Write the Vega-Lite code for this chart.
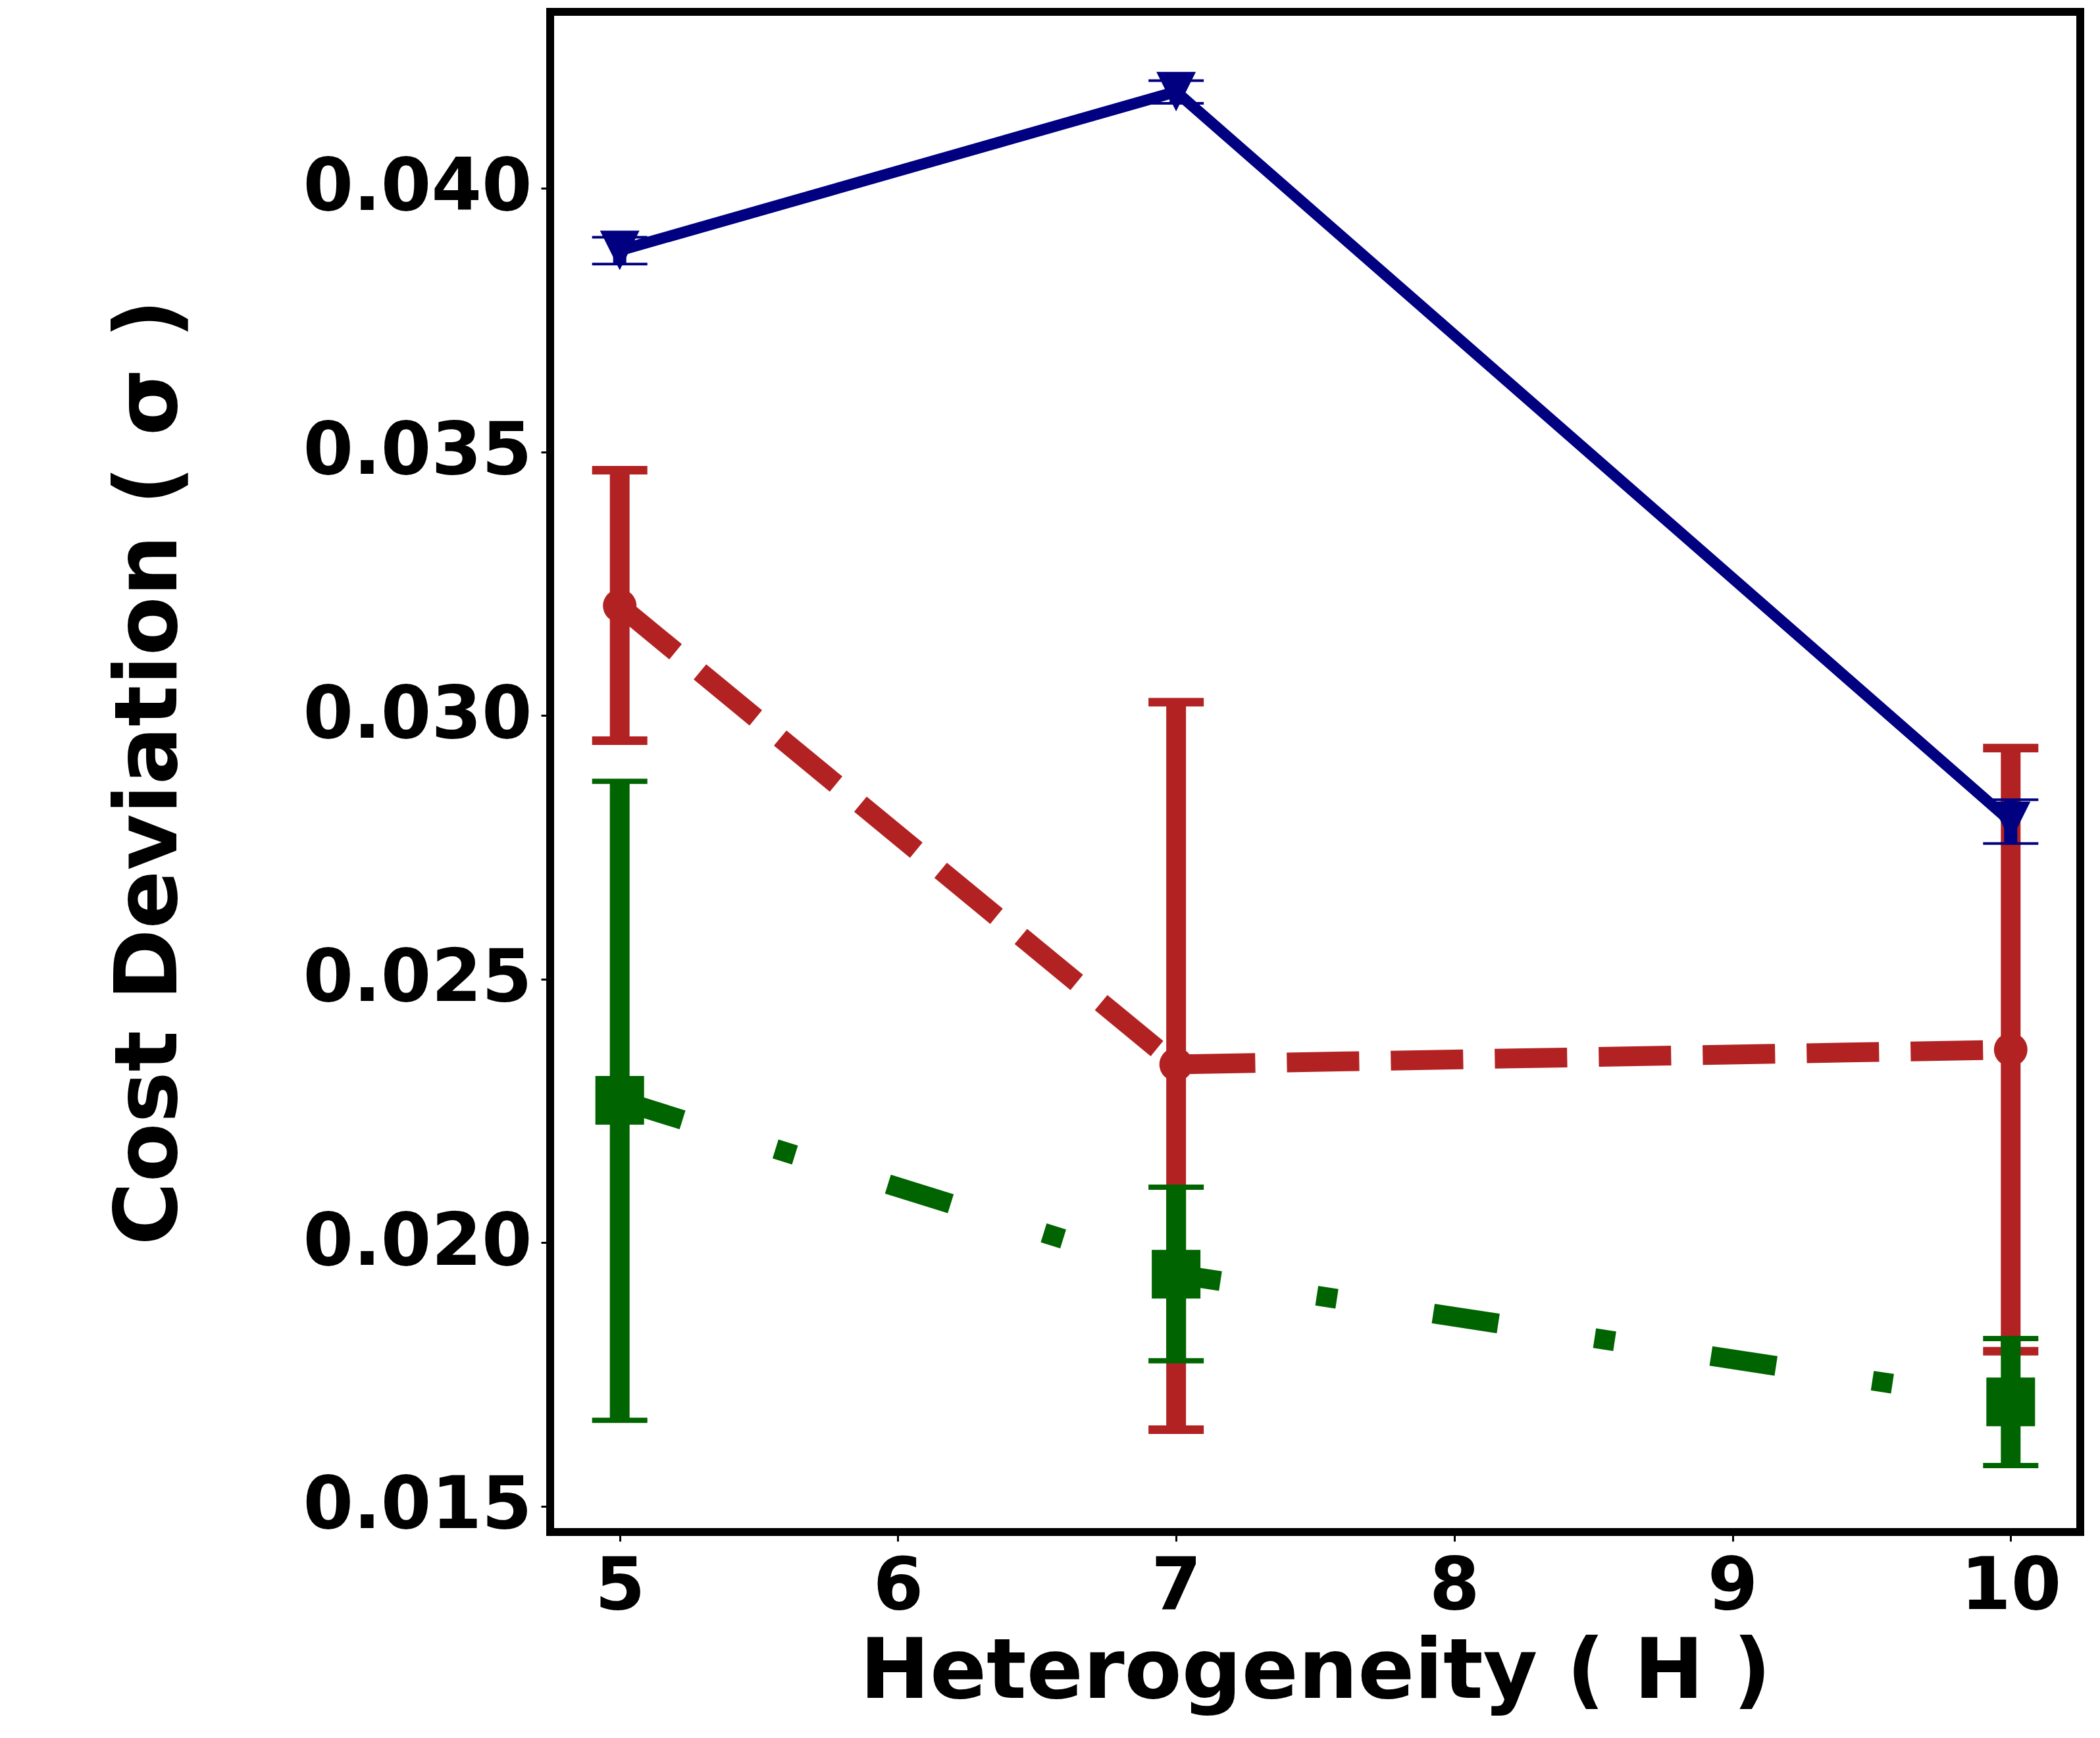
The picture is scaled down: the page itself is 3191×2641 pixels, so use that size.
{
  "$schema": "https://vega.github.io/schema/vega-lite/v6.json",
  "width": 2325,
  "height": 2310,
  "autosize": "none",
  "padding": {"left": 836, "top": 18, "right": 30, "bottom": 313},
  "background": "white",
  "data": {
    "values": [
      {"series": "B", "H": 5, "mean": 0.03208, "lo": 0.02952, "hi": 0.03465},
      {"series": "B", "H": 7, "mean": 0.02338, "lo": 0.01645, "hi": 0.03025},
      {"series": "B", "H": 10, "mean": 0.02366, "lo": 0.01794, "hi": 0.02938},
      {"series": "C", "H": 5, "mean": 0.02270, "lo": 0.01663, "hi": 0.02875},
      {"series": "C", "H": 7, "mean": 0.01940, "lo": 0.01776, "hi": 0.02105},
      {"series": "C", "H": 10, "mean": 0.01698, "lo": 0.01577, "hi": 0.01818},
      {"series": "A", "H": 5, "mean": 0.03882, "lo": 0.03856, "hi": 0.03907},
      {"series": "A", "H": 7, "mean": 0.04183, "lo": 0.04161, "hi": 0.04204},
      {"series": "A", "H": 10, "mean": 0.02799, "lo": 0.02757, "hi": 0.02840}
    ]
  },
  "encoding": {
    "x": {
      "field": "H",
      "type": "quantitative",
      "title": "Heterogeneity ( H )",
      "scale": {"domain": [4.75, 10.25], "nice": false},
      "axis": {
        "values": [5, 6, 7, 8, 9, 10],
        "format": "d",
        "labelPadding": 15,
        "titlePadding": 13,
        "titleFontSize": 127,
        "labelFlush": false
      }
    },
    "y": {
      "field": "mean",
      "type": "quantitative",
      "title": "Cost Deviation ( σ )",
      "scale": {"domain": [0.01451, 0.043345], "nice": false, "zero": false},
      "axis": {
        "values": [0.015, 0.02, 0.025, 0.03, 0.035, 0.04],
        "format": ".3f",
        "labelPadding": 14,
        "titlePadding": 341
      }
    }
  },
  "layer": [
    {
      "transform": [{"filter": "datum.series == 'B'"}],
      "mark": {"type": "rule", "color": "#b22222", "strokeWidth": 30},
      "encoding": {"y": {"field": "lo", "type": "quantitative"}, "y2": {"field": "hi"}}
    },
    {
      "transform": [{"filter": "datum.series == 'B'"}, {"fold": ["lo", "hi"], "as": ["end", "cap"]}],
      "mark": {"type": "point", "shape": "M-1,0L1,0", "size": 7056, "filled": false, "stroke": "#b22222", "strokeWidth": 13, "opacity": 1},
      "encoding": {"y": {"field": "cap", "type": "quantitative"}}
    },
    {
      "transform": [{"filter": "datum.series == 'C'"}],
      "mark": {"type": "rule", "color": "#006400", "strokeWidth": 30},
      "encoding": {"y": {"field": "lo", "type": "quantitative"}, "y2": {"field": "hi"}}
    },
    {
      "transform": [{"filter": "datum.series == 'C'"}, {"fold": ["lo", "hi"], "as": ["end", "cap"]}],
      "mark": {"type": "point", "shape": "M-1,0L1,0", "size": 7056, "filled": false, "stroke": "#006400", "strokeWidth": 8, "opacity": 1},
      "encoding": {"y": {"field": "cap", "type": "quantitative"}}
    },
    {
      "transform": [{"filter": "datum.series == 'A'"}],
      "mark": {"type": "rule", "color": "#000080", "strokeWidth": 20},
      "encoding": {"y": {"field": "lo", "type": "quantitative"}, "y2": {"field": "hi"}}
    },
    {
      "transform": [{"filter": "datum.series == 'A'"}, {"fold": ["lo", "hi"], "as": ["end", "cap"]}],
      "mark": {"type": "point", "shape": "M-1,0L1,0", "size": 7056, "filled": false, "stroke": "#000080", "strokeWidth": 4, "opacity": 1},
      "encoding": {"y": {"field": "cap", "type": "quantitative"}}
    },
    {
      "transform": [{"filter": "datum.series == 'B'"}],
      "mark": {"type": "line", "color": "#b22222", "strokeWidth": 30, "strokeDash": [110, 48]},
      "encoding": {}
    },
    {
      "transform": [{"filter": "datum.series == 'B'"}],
      "mark": {"type": "point", "shape": "circle", "size": 2600, "filled": true, "color": "#b22222", "opacity": 1},
      "encoding": {}
    },
    {
      "transform": [{"filter": "datum.series == 'C'"}],
      "mark": {"type": "line", "color": "#006400", "strokeWidth": 30, "strokeDash": [100, 148, 31, 148]},
      "encoding": {}
    },
    {
      "transform": [{"filter": "datum.series == 'C'"}],
      "mark": {"type": "point", "shape": "square", "size": 5476, "filled": true, "color": "#006400", "opacity": 1},
      "encoding": {}
    },
    {
      "transform": [{"filter": "datum.series == 'A'"}],
      "mark": {"type": "line", "color": "#000080", "strokeWidth": 17, "strokeJoin": "round"},
      "encoding": {}
    },
    {
      "transform": [{"filter": "datum.series == 'A'"}],
      "mark": {"type": "point", "shape": "M-1,-1L1,-1L0,1Z", "size": 3600, "filled": true, "color": "#000080", "opacity": 1},
      "encoding": {}
    }
  ],
  "config": {
    "view": {"stroke": "black", "strokeWidth": 12},
    "axis": {
      "domain": false,
      "grid": false,
      "ticks": true,
      "tickColor": "black",
      "tickSize": 14,
      "tickWidth": 3,
      "labelFont": "DejaVu Sans",
      "labelFontWeight": "bold",
      "labelFontSize": 110,
      "labelColor": "black",
      "labelLimit": 0,
      "titleFont": "DejaVu Sans",
      "titleFontWeight": "bold",
      "titleFontSize": 131,
      "titleColor": "black"
    }
  }
}
